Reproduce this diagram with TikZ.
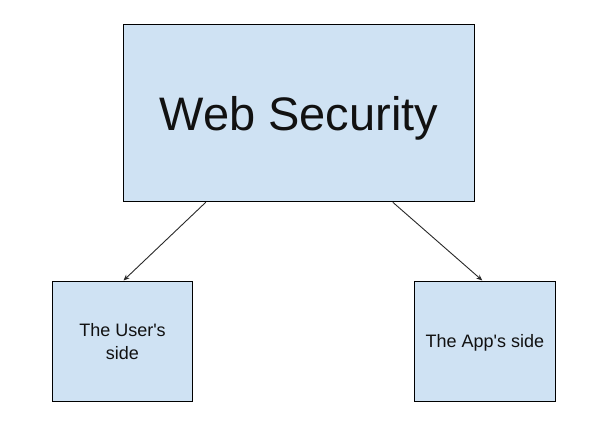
\documentclass[tikz,border=0pt]{standalone}
\usepackage{fontspec}
\setmainfont{Liberation Sans}
\usetikzlibrary{arrows.meta}
\definecolor{boxblue}{HTML}{CFE2F3}
\definecolor{inkc}{HTML}{111111}
\tikzset{
  box/.style={draw=black, fill=boxblue, line width=1pt, rectangle, inner sep=0pt, align=center, text=inkc, text depth=0pt},
  conn/.style={draw=inkc!90, line width=0.9pt, -{Stealth[length=6pt,width=5pt]}}
}
\begin{document}
\begin{tikzpicture}[x=1pt,y=-1pt]
\useasboundingbox[fill=white] (0,0) rectangle (609,427);
\node[box, minimum width=351pt, minimum height=177.5pt, font=\fontsize{47}{52}\selectfont] (web) at (298.8,113) {Web Security};
\node[box, minimum width=140pt, minimum height=120pt, font=\fontsize{18}{23}\selectfont] (user) at (122.5,341) {The User\textquotesingle s\\side};
\node[box, minimum width=141pt, minimum height=120pt, font=\fontsize{18}{23}\selectfont] (app) at (484.8,341) {The App\textquotesingle s side};
\draw[conn] ([xshift=83pt]web.south west) -- ([xshift=71.5pt]user.north west);
\draw[conn] ([xshift=270pt]web.south west) -- ([xshift=68.5pt]app.north west);
\end{tikzpicture}
\end{document}
